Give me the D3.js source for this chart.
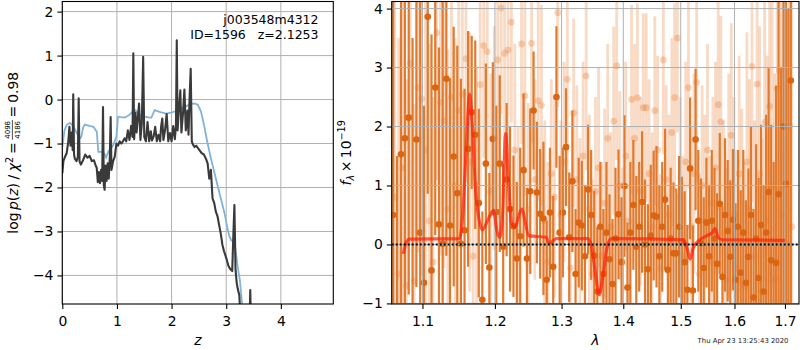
<!DOCTYPE html>
<html>
<head>
<meta charset="utf-8">
<script src="https://cdn.jsdelivr.net/npm/d3@7"></script>
<style>
  body { margin: 0; background: #fff; }
  svg { display: block; font-family: "DejaVu Sans", sans-serif; }
</style>
</head>
<body>
<svg id="fig" width="800" height="350"></svg>
<script>
"use strict";

// ---- left panel: log p(z) ----
const zTicks = [0, 1, 2, 3, 4];
const pTicks = [-4, -3, -2, -1, 0, 1, 2];

const zBlack = [0, 0.02, 0.05, 0.08, 0.11, 0.13, 0.15, 0.17, 0.19, 0.20, 0.215, 0.23, 0.26, 0.285, 0.30, 0.315, 0.34, 0.38, 0.42, 0.46,
  0.50, 0.54, 0.58, 0.61, 0.63, 0.65, 0.67, 0.69, 0.71, 0.73, 0.745, 0.76, 0.775, 0.79, 0.81, 0.83, 0.85, 0.87, 0.885, 0.90,
  0.93, 0.96, 0.99, 1.02, 1.05, 1.08, 1.11, 1.14, 1.17, 1.20, 1.23, 1.26, 1.285, 1.30, 1.315, 1.34, 1.36, 1.38, 1.405, 1.43,
  1.455, 1.48, 1.50, 1.53, 1.56, 1.59, 1.62, 1.64, 1.67, 1.70, 1.73, 1.76, 1.79, 1.81, 1.83, 1.85, 1.88, 1.91, 1.94, 1.97,
  2.00, 2.03, 2.06, 2.08, 2.095, 2.11, 2.13, 2.16, 2.18, 2.21, 2.235, 2.26, 2.29, 2.31, 2.33, 2.35, 2.37, 2.39, 2.42, 2.45,
  2.48, 2.51, 2.55, 2.59, 2.63, 2.66, 2.69, 2.72, 2.75, 2.78, 2.81, 2.84, 2.87, 2.90, 2.93, 2.96, 3.00, 3.04, 3.07, 3.11,
  3.13, 3.15, 3.17, 3.19, 3.21, 3.24, 3.27, 3.42, 3.44, 3.46];
const pBlack = [-1.68, -1.40, -1.30, -1.22, -0.95, -0.62, -1.05, -0.75, -1.15, 0.12, -1.25, -1.35, -1.40, -1.30, 0.03, -1.40, -1.48, -1.38, -1.25, -1.32,
  -1.28, -1.40, -1.38, -1.50, -1.55, -1.88, -1.65, -1.90, -1.60, -1.85, -0.17, -1.95, -2.05, -1.50, -1.85, -1.45, -1.80, -1.30, -0.40, -1.60,
  -1.40, -1.30, -1.00, -1.05, -0.95, -1.00, -0.95, -0.88, -0.95, -0.70, -0.92, -0.60, -0.85, 1.05, -0.90, -0.30, -0.75, -0.45, -0.09, -0.92,
  -0.55, 0.97, -0.85, -0.95, -0.51, -0.95, -0.72, -0.93, -0.85, -0.62, -0.95, -0.80, -0.95, -0.60, -0.43, -0.92, -0.70, -0.33, -0.95, -0.76,
  -0.95, -0.60, -0.90, -0.60, 1.35, -0.70, -0.30, 0.21, -0.75, -0.30, 0.23, -0.70, -0.25, -0.80, 0.06, 0.70, -0.95, -1.02, -1.08, -1.05,
  -1.10, -1.15, -1.22, -1.25, -1.35, -1.45, -1.80, -1.60, -2.25, -2.35, -2.55, -2.65, -2.85, -3.05, -3.30, -3.45, -3.60, -3.78, -3.85, -3.90,
  -3.10, -2.40, -3.85, -4.15, -4.30, -4.45, -5.20, -5.50, -4.33, -5.50];

const zBlue = [0, 0.04, 0.08, 0.14, 0.20, 0.26, 0.32, 0.35, 0.38, 0.41, 0.50, 0.57, 0.63, 0.66, 0.72, 0.77, 0.80, 0.84, 0.93, 0.99,
  1.02, 1.07, 1.14, 1.22, 1.28, 1.34, 1.42, 1.51, 1.59, 1.63, 1.69, 1.78, 1.90, 1.99, 2.08, 2.18, 2.27, 2.36, 2.42, 2.48,
  2.54, 2.60, 2.66, 2.72, 2.78, 2.84, 2.91, 2.97, 3.03, 3.06, 3.09, 3.15, 3.21, 3.25, 3.29, 3.33];
const pBlue = [-1.08, -0.70, -0.58, -0.53, -0.60, -0.75, -0.89, -0.84, -0.64, -0.57, -0.60, -0.62, -0.73, -1.19, -1.19, -1.23, -1.32, -1.19, -1.04, -0.85,
  -0.39, -0.40, -0.41, -0.36, -0.28, -0.24, -0.36, -0.39, -0.41, -0.41, -0.24, -0.28, -0.32, -0.30, -0.26, -0.20, -0.15, -0.10, -0.09, -0.12,
  -0.28, -0.62, -1.00, -1.34, -1.64, -1.95, -2.29, -2.59, -2.97, -3.12, -3.20, -3.23, -3.80, -4.11, -4.65, -5.20];

// ---- right panel: spectrum ----
const lamTicks = [1.1, 1.2, 1.3, 1.4, 1.5, 1.6, 1.7];
const fluxTicks = [-1, 0, 1, 2, 3, 4];

const darkWave = [1.062, 1.067, 1.072, 1.077, 1.082, 1.087, 1.092, 1.097, 1.102, 1.107,
  1.112, 1.117, 1.122, 1.127, 1.132, 1.137, 1.142, 1.147, 1.152, 1.157,
  1.162, 1.167, 1.172, 1.177, 1.182, 1.187, 1.192, 1.197, 1.202, 1.207,
  1.212, 1.217, 1.222, 1.227, 1.232, 1.237, 1.242, 1.247, 1.252, 1.257,
  1.262, 1.267, 1.272, 1.277, 1.282, 1.287, 1.292, 1.297, 1.302, 1.307,
  1.312, 1.317, 1.322, 1.327, 1.332, 1.337, 1.342, 1.347, 1.352, 1.357,
  1.362, 1.367, 1.372, 1.377, 1.382, 1.387, 1.392, 1.397, 1.402, 1.407,
  1.412, 1.417, 1.422, 1.427, 1.432, 1.437, 1.442, 1.447, 1.452, 1.457,
  1.462, 1.467, 1.472, 1.477, 1.482, 1.487, 1.492, 1.497, 1.502, 1.507,
  1.512, 1.517, 1.522, 1.527, 1.532, 1.537, 1.542, 1.547, 1.552, 1.557,
  1.562, 1.567, 1.572, 1.577, 1.582, 1.587, 1.592, 1.597, 1.602, 1.607,
  1.612, 1.617, 1.622, 1.627, 1.632, 1.637, 1.642, 1.647, 1.652, 1.657,
  1.662, 1.667, 1.672, 1.677, 1.682, 1.687, 1.692, 1.697, 1.702, 1.707,
  1.712];
const darkFlux = [0.5, -1.6, 1.53, 1.80, 2.15, -2.0, 1.78, 0.2, -0.65, 3.86,
  -0.44, 2.66, 0.34, 0.01, 2.81, 0.32, 1.49, 0.87, 0.01, 0.24,
  1.62, 2.24, 1.86, 0.70, -0.94, 1.37, -0.39, 1.79, 0.55, 1.37,
  -0.04, 1.1, 0.6, 0.31, -0.24, 0.14, 1.26, -0.24, 0.9, 2.27,
  0.88, 0.52, 0.44, -0.6, 0.54, -0.38, 2.50, 0.2, 0.54, 1.65,
  0.12, 1.07, -0.5, 0.37, 0.32, -0.2, 0.93, 0.50, -0.19, -0.8,
  0.3, -0.5, 0.2, -0.25, -0.67, 0.1, 0.51, -0.3, 0.99, -0.73,
  0.2, 0.67, -0.04, 0.3, 0.72, 0.0, -0.42, 0.15, 0.49, 0.47,
  -0.2, 0.3, 0.76, -0.43, 0.1, -0.15, -0.15, 0.3, 0.05, -0.3,
  -0.77, 1.29, -0.78, 1.78, 0.4, 0.02, -0.4, 0.37, -0.2, 0.40,
  0.1, -0.33, 0.69, -0.55, 0.5, 0.23, -0.21, 0.42, -0.6, 0.3,
  -0.48, 0.2, -0.65, -0.21, 0.5, -0.9, 0.1, -0.57, 0.33, -0.8,
  0.2, 0.89, -0.27, -1.2, -0.31, 0.85, -1.5, 2.0, 1.03, -2.0,
  2.78];
const darkErr = [4.0, 3.1, 4.0, 3.5, 3.0, 5.5, 2.5, 4.5, 3.0, 3.0,
  4.0, 2.5, 3.0, 4.5, 3.0, 2.5, 2.2, 2.5, 2.8, 2.4,
  2.0, 1.3, 1.6, 1.6, 1.5, 1.7, 1.6, 1.3, 1.8, 1.5,
  1.4, 1.3, 1.4, 1.2, 1.3, 1.5, 1.3, 1.2, 1.4, 1.0,
  1.2, 1.1, 1.3, 1.0, 1.1, 1.2, 1.2, 1.3, 1.1, 1.0,
  1.1, 1.2, 1.1, 1.1, 1.1, 1.2, 1.1, 1.1, 1.1, 1.1,
  1.1, 1.1, 1.2, 1.1, 1.1, 1.2, 1.1, 1.1, 1.2, 1.1,
  1.2, 1.1, 1.2, 1.1, 1.2, 1.1, 1.1, 1.2, 1.1, 1.2,
  1.2, 1.1, 1.2, 1.1, 1.2, 1.2, 1.1, 1.2, 1.1, 1.2,
  1.1, 1.2, 1.1, 1.2, 1.2, 1.1, 1.2, 1.1, 1.2, 1.2,
  1.2, 1.2, 1.2, 1.2, 1.3, 1.2, 1.3, 1.2, 1.3, 1.3,
  1.4, 1.4, 1.4, 1.5, 1.5, 1.5, 1.6, 1.7, 1.7, 1.8,
  2.0, 2.1, 2.3, 2.6, 3.0, 3.5, 4.5, 5.0, 5.0, 6.0,
  6.0];

const faintWave = [1.064, 1.069, 1.074, 1.079, 1.084, 1.089, 1.094, 1.099, 1.104, 1.109,
  1.114, 1.119, 1.124, 1.129, 1.134, 1.139, 1.144, 1.149, 1.154, 1.159,
  1.164, 1.169, 1.174, 1.179, 1.184, 1.189, 1.194, 1.199, 1.204, 1.209,
  1.214, 1.219, 1.224, 1.229, 1.234, 1.239, 1.244, 1.249, 1.254, 1.259,
  1.264, 1.269, 1.274, 1.279, 1.284, 1.289, 1.294, 1.299, 1.304, 1.309,
  1.314, 1.319, 1.324, 1.329, 1.334, 1.339, 1.344, 1.349, 1.354, 1.359,
  1.364, 1.369, 1.374, 1.379, 1.384, 1.389, 1.394, 1.399, 1.404, 1.409,
  1.414, 1.419, 1.424, 1.429, 1.434, 1.439, 1.444, 1.449, 1.454, 1.459,
  1.464, 1.469, 1.474, 1.479, 1.484, 1.489, 1.494, 1.499, 1.504, 1.509,
  1.514, 1.519, 1.524, 1.529, 1.534, 1.539, 1.544, 1.549, 1.554, 1.559,
  1.564, 1.569, 1.574, 1.579, 1.584, 1.589, 1.594, 1.599, 1.604, 1.609,
  1.614, 1.619, 1.624, 1.629, 1.634, 1.639, 1.644, 1.649, 1.654, 1.659,
  1.664, 1.669, 1.674, 1.679, 1.684, 1.689, 1.694, 1.699, 1.704, 1.709,
  1.714];
const faintFlux = [0.8, -0.5, 1.3, -0.7, 3.07, -0.62, 2.66, 2.47, 1.6, 0.4,
  -0.3, 3.59, 2.41, 2.10, 0.6, 2.50, 1.0, 2.27, 2.55, 3.15,
  1.4, -0.2, 1.0, 2.71, 3.37, 3.27, 0.9, 1.8, 3.13, 4.01,
  3.24, 3.30, 3.77, 1.6, 0.2, 3.40, 2.52, 0.6, 3.41, 1.1,
  2.44, 2.36, 0.4, -0.3, 1.2, 0.8, 3.93, 0.5, 1.4, 2.80,
  -0.4, 2.23, 1.1, 0.2, 1.5, 2.86, 0.6, -0.5, 0.9, 1.3,
  -0.2, 0.7, 1.8, 0.3, 2.09, 3.03, 1.0, -0.3, 1.5, 0.4,
  2.46, 1.8, 2.49, 0.9, 2.32, 2.32, 1.2, 0.3, 2.27, 1.6,
  -0.4, 3.13, 1.1, 0.5, 1.9, 2.49, 3.50, 0.8, -0.2, 1.4,
  2.66, 0.3, 1.2, 2.75, -0.5, 1.0, 0.4, 1.6, -0.3, 0.7,
  1.3, 2.37, 2.08, 0.2, -0.6, 1.0, 1.85, 0.5, -0.4, 1.2,
  0.2, -0.7, 1.4, 0.6, 3.02, -0.2, 2.72, 1.2, -0.8, 2.07,
  0.4, 2.34, 1.0, -0.6, 2.64, 2.95, 0.5, 1.5, -1.0, 2.0,
  0.3];
const faintErr = [4.5, 4.0, 3.5, 3.5, 3.0, 3.0, 2.8, 3.0, 2.8, 3.0,
  2.8, 2.5, 2.6, 2.5, 2.7, 2.4, 2.5, 2.3, 2.2, 2.1,
  2.2, 2.0, 2.0, 2.0, 1.9, 1.9, 2.0, 1.9, 1.8, 1.8,
  1.8, 1.8, 1.7, 1.8, 1.8, 1.7, 1.7, 1.8, 1.7, 1.7,
  1.7, 1.7, 1.7, 1.7, 1.6, 1.7, 1.6, 1.6, 1.7, 1.6,
  1.6, 1.6, 1.6, 1.6, 1.6, 1.6, 1.6, 1.6, 1.6, 1.7,
  1.6, 1.6, 1.6, 1.6, 1.6, 1.6, 1.6, 1.6, 1.6, 1.6,
  1.6, 1.6, 1.6, 1.6, 1.6, 1.6, 1.6, 1.6, 1.6, 1.6,
  1.6, 1.6, 1.6, 1.7, 1.6, 1.6, 1.6, 1.7, 1.7, 1.7,
  1.7, 1.7, 1.7, 1.7, 1.7, 1.7, 1.8, 1.8, 1.8, 1.8,
  1.8, 1.8, 1.8, 1.9, 1.9, 1.9, 1.9, 2.0, 2.0, 2.0,
  2.1, 2.1, 2.2, 2.2, 2.3, 2.3, 2.4, 2.5, 2.6, 2.7,
  2.8, 3.0, 3.2, 3.5, 3.8, 4.2, 4.5, 5.0, 5.0, 5.5,
  6.0];

const modelWave = [1.075, 1.079, 1.083, 1.150, 1.155, 1.160, 1.164, 1.168, 1.172, 1.177, 1.182, 1.190, 1.198, 1.203, 1.207,
  1.211, 1.2155, 1.220, 1.224, 1.229, 1.239, 1.250, 1.276, 1.281, 1.292, 1.342, 1.348, 1.354, 1.360, 1.366,
  1.373, 1.380, 1.505, 1.511, 1.517, 1.523, 1.528, 1.548, 1.558, 1.563, 1.569, 1.576, 1.700];
const modelFlux = [-0.16, 0.04, 0.09, 0.1, 0.6, 1.8, 2.55, 2.0, 1.0, 0.45, 0.25, 0.42, 0.58, 0.22, 0.12,
  0.5, 1.88, 1.0, 0.38, 0.29, 0.6, 0.15, 0.12, 0.02, 0.1, 0.1, -0.05, -0.5, -0.85, -0.55,
  -0.05, 0.1, 0.08, -0.05, -0.25, -0.05, 0.02, 0.15, 0.2, 0.27, 0.12, 0.08, 0.07];

const objName = "j003548m4312";
const objInfo = "ID=1596   z=2.1253";
const stamp = "Thu Apr 23 13:25:43 2020";

// ---- layout ----
const FS = 13.9, TICK = 4.9;
const L = {x0: 62.3, x1: 333.3, y0: 1.5, y1: 304};
const R = {x0: 391.7, x1: 799, y0: 1.5, y1: 304};
const GRID = "#b0b0b0";

const svg = d3.select("#fig");
const defs = svg.append("defs");
[["clipL", L], ["clipR", R]].forEach(([id, b]) => {
  defs.append("clipPath").attr("id", id).append("rect")
    .attr("x", b.x0).attr("y", b.y0).attr("width", b.x1 - b.x0).attr("height", b.y1 - b.y0);
});

const xL = d3.scaleLinear().domain([0, 4.96]).range([L.x0, L.x1]);
const yL = d3.scaleLinear().domain([-4.65, 2.23]).range([L.y1, L.y0]);
const xR = d3.scaleLog().domain([1.0601, 1.7289]).range([R.x0, R.x1]);
const yR = d3.scaleLinear().domain([-1.01, 4.12]).range([R.y1, R.y0]);

function drawGrid(g, x, y, xt, yt, b) {
  g.selectAll(null).data(xt).join("line")
    .attr("x1", d => x(d)).attr("x2", d => x(d)).attr("y1", b.y0).attr("y2", b.y1)
    .attr("stroke", GRID).attr("stroke-width", 1);
  g.selectAll(null).data(yt).join("line")
    .attr("y1", d => y(d)).attr("y2", d => y(d)).attr("x1", b.x0).attr("x2", b.x1)
    .attr("stroke", GRID).attr("stroke-width", 1);
}

function drawAxes(x, y, xt, yt, xf, yf, b) {
  const ax = svg.append("g").attr("transform", `translate(0,${b.y1})`)
    .call(d3.axisBottom(x).tickValues(xt).tickFormat(xf).tickSize(TICK).tickPadding(7));
  const ay = svg.append("g").attr("transform", `translate(${b.x0},0)`)
    .call(d3.axisLeft(y).tickValues(yt).tickFormat(yf).tickSize(TICK).tickPadding(4));
  [ax, ay].forEach(a => {
    a.select(".domain").remove();
    a.selectAll(".tick line").attr("stroke", "#000").attr("stroke-width", 1.1);
    a.selectAll(".tick text").attr("fill", "#000").style("font-size", FS + "px")
      .style("font-family", "DejaVu Sans, sans-serif");
  });
  svg.append("rect").attr("x", b.x0).attr("y", b.y0)
    .attr("width", b.x1 - b.x0).attr("height", b.y1 - b.y0)
    .attr("fill", "none").attr("stroke", "#000").attr("stroke-width", 1.1);
}

// ---- left panel ----
const gL = svg.append("g");
drawGrid(gL, xL, yL, zTicks, pTicks, L);
const plotL = gL.append("g").attr("clip-path", "url(#clipL)");
const lineL = d3.line().x(d => xL(d[0])).y(d => yL(d[1]));
plotL.append("path").datum(d3.zip(zBlue, pBlue)).attr("d", lineL)
  .attr("fill", "none").attr("stroke", "#80b3dc").attr("stroke-width", 1.8);
plotL.append("path").datum(d3.zip(zBlack, pBlack)).attr("d", lineL)
  .attr("fill", "none").attr("stroke", "#3a3a3a").attr("stroke-width", 2.1)
  .attr("stroke-linejoin", "round");
drawAxes(xL, yL, zTicks, pTicks, d3.format("d"), d3.format("d"), L);

svg.append("text").attr("x", 318.5).attr("y", 24).attr("text-anchor", "end")
  .style("font-size", "12.5px").text(objName);
svg.append("text").attr("x", 318.5).attr("y", 38.5).attr("text-anchor", "end")
  .style("font-size", "12.5px").style("white-space", "pre").attr("xml:space", "preserve").text(objInfo);

// ---- right panel ----
const gR = svg.append("g").attr("clip-path", "url(#clipR)");
const ORANGE = "#e5762a";
gR.selectAll(null).data(d3.range(faintWave.length)).join("line")
  .attr("x1", i => xR(faintWave[i])).attr("x2", i => xR(faintWave[i]))
  .attr("y1", i => yR(faintFlux[i] - faintErr[i])).attr("y2", i => yR(faintFlux[i] + faintErr[i]))
  .attr("stroke", ORANGE).attr("stroke-opacity", 0.27).attr("stroke-width", 2.8);
gR.selectAll(null).data(d3.range(faintWave.length)).join("circle")
  .attr("cx", i => xR(faintWave[i])).attr("cy", i => yR(faintFlux[i])).attr("r", 3.4)
  .attr("fill", ORANGE).attr("fill-opacity", 0.3);
gR.selectAll(null).data(d3.range(darkWave.length)).join("line")
  .attr("x1", i => xR(darkWave[i])).attr("x2", i => xR(darkWave[i]))
  .attr("y1", i => yR(darkFlux[i] - darkErr[i])).attr("y2", i => yR(darkFlux[i] + darkErr[i]))
  .attr("stroke", "#e07a2e").attr("stroke-width", 2.2);
gR.selectAll(null).data(d3.range(darkWave.length)).join("circle")
  .attr("cx", i => xR(darkWave[i])).attr("cy", i => yR(darkFlux[i])).attr("r", 3.3)
  .attr("fill", "#da6512");
drawGrid(gR, xR, yR, lamTicks, fluxTicks, R);
gR.append("path").datum(d3.zip(modelWave, modelFlux))
  .attr("d", d3.line().curve(d3.curveMonotoneX).x(d => xR(d[0])).y(d => yR(d[1])))
  .attr("fill", "none").attr("stroke", "#ff1e0a").attr("stroke-opacity", 0.72)
  .attr("stroke-width", 3.2).attr("stroke-linejoin", "round");
gR.append("line").attr("x1", R.x0).attr("x2", R.x1).attr("y1", yR(0)).attr("y2", yR(0))
  .attr("stroke", "#000").attr("stroke-width", 2).attr("stroke-dasharray", "2 2");
drawAxes(xR, yR, lamTicks, fluxTicks, d3.format(".1f"), d3.format("d"), R);

// ---- axis labels (math-like text built from pieces) ----
function mathLabel(cx, cy, pieces) {
  const g = svg.append("g").attr("transform", `translate(${cx},${cy}) rotate(-90)`);
  const inner = g.append("g");
  let pos = 0;
  pieces.forEach(p => {
    if (p.frac) {
      const num = inner.append("text").attr("y", -2.8).style("font-size", "7px").text(p.frac[0]);
      const den = inner.append("text").attr("y", 7.3).style("font-size", "7px").text(p.frac[1]);
      const w = Math.max(num.node().getComputedTextLength(), den.node().getComputedTextLength()) + 2;
      num.attr("x", pos + w / 2).attr("text-anchor", "middle");
      den.attr("x", pos + w / 2).attr("text-anchor", "middle");
      inner.append("line").attr("x1", pos).attr("x2", pos + w).attr("y1", -0.6).attr("y2", -0.6)
        .attr("stroke", "#000").attr("stroke-width", 0.7);
      pos += w + (p.gap || 0);
      return;
    }
    const t = inner.append("text").attr("x", pos).attr("y", p.y ?? 5)
      .style("font-size", (p.size || FS) + "px")
      .style("font-style", p.it ? "italic" : "normal").text(p.t);
    pos += t.node().getComputedTextLength() + (p.gap || 0);
  });
  inner.attr("transform", `translate(${-pos / 2},0)`);
}

mathLabel(13, (L.y0 + L.y1) / 2, [
  {t: "log", gap: 2.5}, {t: "p", it: true}, {t: "("}, {t: "z", it: true}, {t: ")", gap: 3.5},
  {t: "/", gap: 3.5}, {t: "χ", it: true}, {t: "2", size: 9.7, y: -0.5, gap: 3},
  {t: "=", gap: 2.5}, {frac: ["4098", "4186"], gap: 2.5}, {t: "=", gap: 3}, {t: "0.98"}
]);
mathLabel(345.5, (R.y0 + R.y1) / 2, [
  {t: "f", it: true}, {t: "λ", it: true, size: 9.7, y: 8, gap: 2.5}, {t: "×", gap: 2.5},
  {t: "10"}, {t: "−19", size: 9.7, y: -1}
]);

svg.append("text").attr("x", (L.x0 + L.x1) / 2).attr("y", 345).attr("text-anchor", "middle")
  .style("font-size", FS + "px").style("font-style", "italic").text("z");
svg.append("text").attr("x", (R.x0 + R.x1) / 2).attr("y", 345).attr("text-anchor", "middle")
  .style("font-size", FS + "px").style("font-style", "italic").text("λ");
svg.append("text").attr("x", 788.5).attr("y", 342.5).attr("text-anchor", "end")
  .style("font-size", "6.9px").attr("fill", "#222").text(stamp);
</script>
</body>
</html>
